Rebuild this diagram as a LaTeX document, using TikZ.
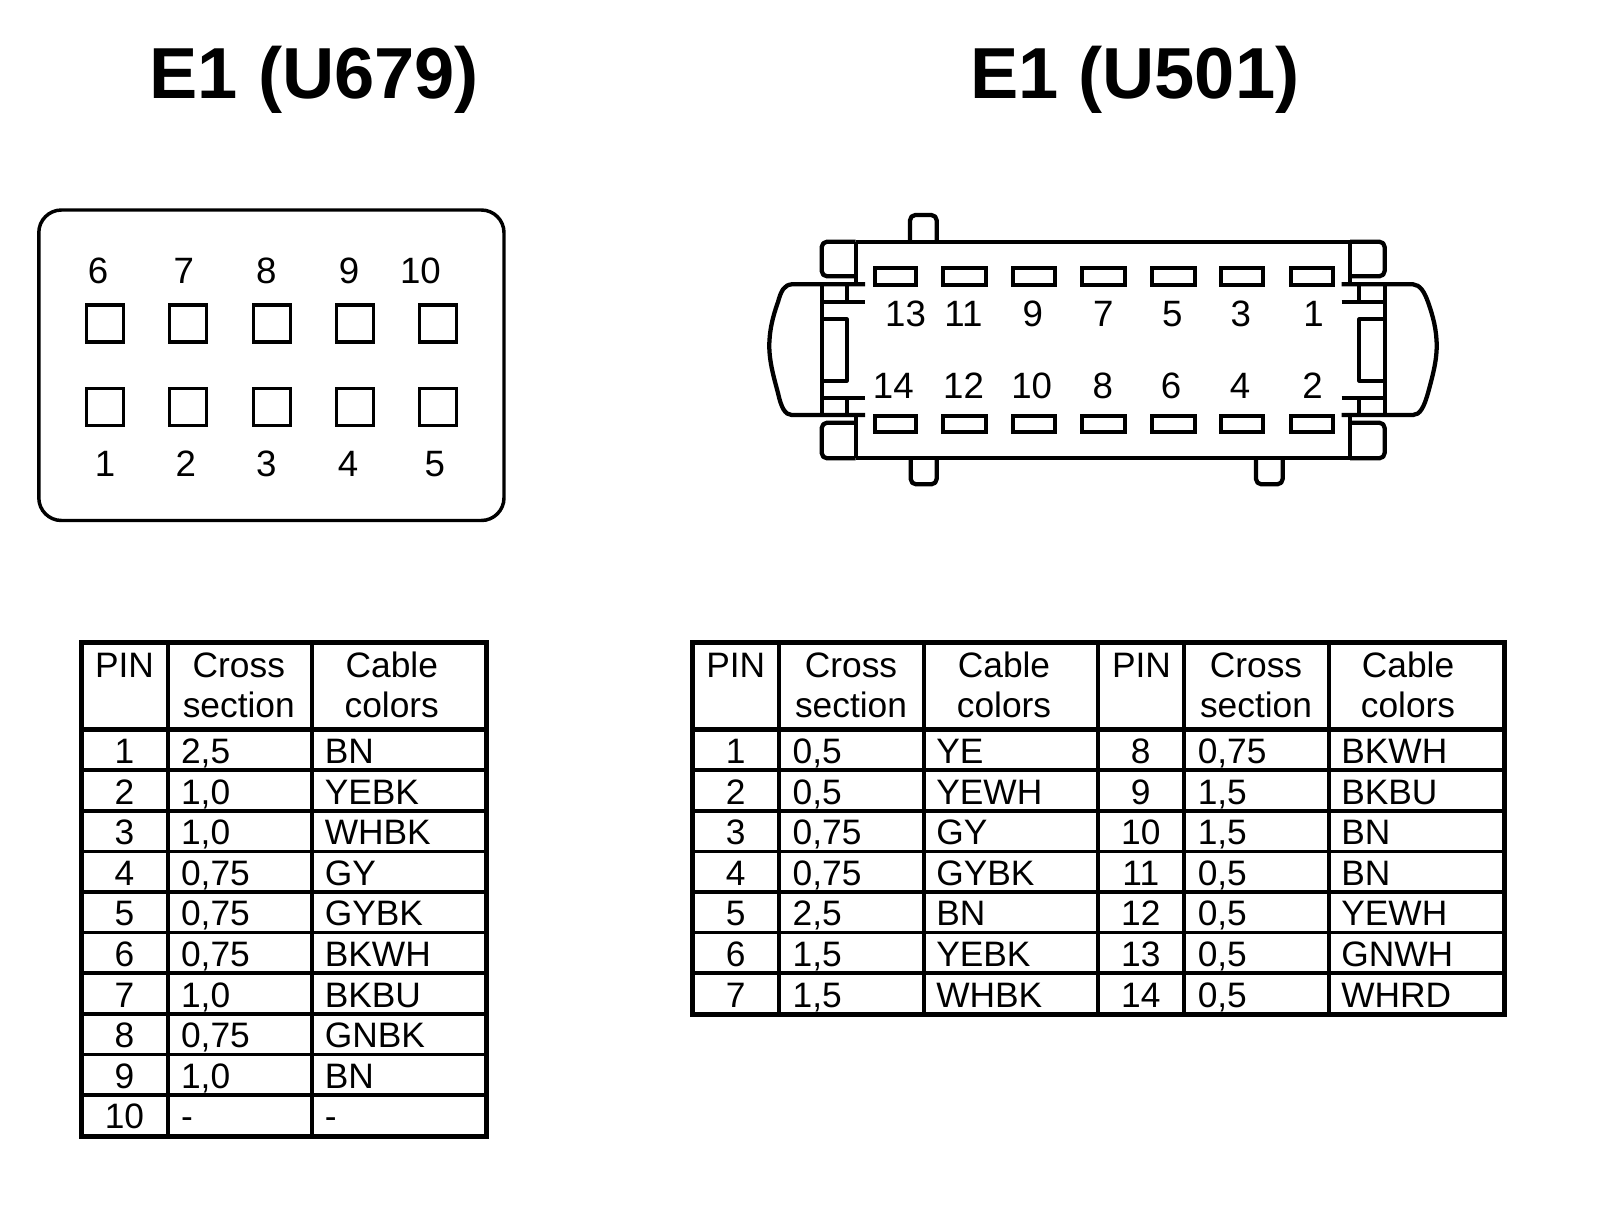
\documentclass[tikz,border=0pt]{standalone}
\usepackage{fontspec}
\setmainfont{Liberation Sans}
\begin{document}
\begin{tikzpicture}[x=0.75pt,y=-0.75pt,
  title/.style={font=\fontsize{54.2}{54.2}\selectfont\bfseries,inner sep=0pt,anchor=base},
  num/.style={font=\fontsize{27.5}{27.5}\selectfont,inner sep=0pt,anchor=base},
  cell/.style={font=\fontsize{26.5}{26.5}\selectfont,inner sep=0pt,anchor=base},
  lcell/.style={cell,anchor=base west},
  outer/.style={line width=3.75pt,line join=miter},
  vline/.style={line width=3pt},
  hline/.style={line width=2.6pt},
  hhead/.style={line width=3.2pt},
  shell/.style={line width=2.6pt,rounded corners=17pt},
  socket/.style={line width=2.6pt},
  hull/.style={line width=3.2pt,line join=round,line cap=butt},
  pin/.style={line width=3pt,line join=miter}]
\useasboundingbox (0,0) rectangle (1600,1214);
% titles
\node[title] (t1) at (314.3,98.5) {E1 (U679)};
\node[title] (t2) at (1134.7,98.5) {E1 (U501)};
% left connector
\draw[shell] (38.8,210) rectangle (504,520.5);
\foreach \x [count=\i] in {105,188,271.9,355,437.8}{
  \draw[socket] (\x-18.5,305) rectangle (\x+18.5,342);
  \draw[socket] (\x-18.5,388.5) rectangle (\x+18.5,425.5);
}
\foreach \n/\x in {6/98,7/183.7,8/266.3,9/349,10/420.4}
  \node[num] (lt\n) at (\x,283) {\n};
\foreach \n/\x in {1/105,2/185.7,3/266.3,4/348,5/434.7}
  \node[num] (lb\n) at (\x,476) {\n};
% right connector: body
\draw[hull] (855.7,241.7) -- (1350,241.7);
\draw[hull] (855.7,458.3) -- (1350,458.3);
\draw[hull] (855.7,241.7) -- (855.7,284.3);
\draw[hull] (855.7,415) -- (855.7,458.3);
\draw[hull] (1350,241.7) -- (1350,284.3);
\draw[hull] (1350,415) -- (1350,458.3);
% corner boxes
\draw[hull,rounded corners=4pt] (855.7,241.7) -- (821.7,241.7) -- (821.7,276.3) -- (855.7,276.3);
\draw[hull,rounded corners=4pt] (855.7,422.7) -- (821.7,422.7) -- (821.7,458.3) -- (855.7,458.3);
\draw[hull,rounded corners=4pt] (1350,241.7) -- (1384.7,241.7) -- (1384.7,276.3) -- (1350,276.3);
\draw[hull,rounded corners=4pt] (1350,422.7) -- (1384.7,422.7) -- (1384.7,458.3) -- (1350,458.3);
% tabs
\draw[hull,rounded corners=4pt] (910,241.7) -- (910,215) -- (936.7,215) -- (936.7,241.7);
\draw[hull,rounded corners=4pt] (910.7,458.3) -- (910.7,484.3) -- (936.7,484.3) -- (936.7,458.3);
\draw[hull,rounded corners=4pt] (1256,458.3) -- (1256,484.3) -- (1282.7,484.3) -- (1282.7,458.3);
% left latch
\draw[hull] (821.7,284.3) -- (821.7,415);
\draw[hull] (865,284.3) -- (791.7,284.3) .. controls (784,285) and (781,291) .. (778,302)
  .. controls (773,316) and (769.3,330) .. (769.3,346) .. controls (769.3,362) and (774,378) .. (778,393)
  .. controls (781,407) and (785,415) .. (791.7,415) -- (865,415);
\draw[hull] (821.7,301.7) -- (865,301.7);
\draw[hull] (821.7,397.7) -- (865,397.7);
\draw[hull] (846.7,284.3) -- (846.7,301.7);
\draw[hull] (846.7,397.7) -- (846.7,415);
\draw[hull] (821.7,319.3) -- (846.7,319.3) -- (846.7,380.7) -- (821.7,380.7);
% right latch
\draw[hull] (1384.7,284.3) -- (1384.7,415);
\draw[hull] (1341.7,284.3) -- (1413,284.3) .. controls (1420,285) and (1424,291) .. (1428,302)
  .. controls (1433,316) and (1436.7,330) .. (1436.7,346) .. controls (1436.7,362) and (1432,378) .. (1428,393)
  .. controls (1424,407) and (1420,415) .. (1413,415) -- (1341.7,415);
\draw[hull] (1341.7,301.7) -- (1384.7,301.7);
\draw[hull] (1341.7,397.7) -- (1384.7,397.7);
\draw[hull] (1359.3,284.3) -- (1359.3,301.7);
\draw[hull] (1359.3,397.7) -- (1359.3,415);
\draw[hull] (1384.7,319.3) -- (1359.3,319.3) -- (1359.3,380.7) -- (1384.7,380.7);
% pins
\foreach \a/\b in {874/916.7,942.3/986,1012.3/1055,1081.6/1125,1151/1195,1220/1263.3,1290/1333.3}{
  \draw[pin] (\a+0.5,268.2) rectangle (\b-0.5,284.5);
  \draw[pin] (\a+0.5,415.5) rectangle (\b-0.5,432.3);
}
\foreach \n/\x in {13/905.5,11/963.5,9/1032.7,7/1103.3,5/1172.3,3/1240.7,1/1313.5}
  \node[num] (ru\n) at (\x,326.7) {\n};
\foreach \n/\x in {14/893.3,12/963.5,10/1031.7,8/1102.7,6/1171,4/1240,2/1312.5}
  \node[num] (rl\n) at (\x,398.3) {\n};
% left table
\draw[outer] (81.6,642) rectangle (486.7,1136);
\foreach \x in {167.9,312.2} \draw[vline] (\x,642) -- (\x,1136);
\draw[hhead] (81.6,729.6) -- (486.7,729.6);
\foreach \k in {1,...,9} \draw[hline] (81.6,729.6+40.6*\k) -- (486.7,729.6+40.6*\k);
\node[cell] (lh1) at (124.5,677) {PIN};
\node[cell] (lh2) at (238.8,677) {Cross};
\node[cell] (lh3) at (238.8,717.5) {section};
\node[cell] (lh4) at (391.8,677) {Cable};
\node[cell] (lh5) at (391.8,717.5) {colors};
\foreach \p/\s/\c [count=\k from 0] in {1/{2,5}/BN,2/{1,0}/YEBK,3/{1,0}/WHBK,4/{0,75}/GY,5/{0,75}/GYBK,6/{0,75}/BKWH,7/{1,0}/BKBU,8/{0,75}/GNBK,9/{1,0}/BN,10/-/-}{
  \node[cell] (lp\p) at (124.5,763.5+40.6*\k) {\p};
  \node[lcell] (ls\p) at (180.8,763.5+40.6*\k) {\s};
  \node[lcell] (lc\p) at (324.5,763.5+40.6*\k) {\c};
}
% right table
\draw[outer] (692,642) rectangle (1504,1014);
\foreach \x in {779,923.5,1098,1184,1329} \draw[vline] (\x,642) -- (\x,1014);
\draw[hhead] (692,729.6) -- (1504,729.6);
\foreach \k in {1,...,6} \draw[hline] (692,729.6+40.6*\k) -- (1504,729.6+40.6*\k);
\node[cell] (rh1) at (735.7,677) {PIN};
\node[cell] (rh2) at (851,677) {Cross};
\node[cell] (rh3) at (851,717.5) {section};
\node[cell] (rh4) at (1004,677) {Cable};
\node[cell] (rh5) at (1004,717.5) {colors};
\node[cell] (rh6) at (1141.5,677) {PIN};
\node[cell] (rh7) at (1256,677) {Cross};
\node[cell] (rh8) at (1256,717.5) {section};
\node[cell] (rh9) at (1408,677) {Cable};
\node[cell] (rh10) at (1408,717.5) {colors};
\foreach \p/\s/\c [count=\k from 0] in {1/{0,5}/YE,2/{0,5}/YEWH,3/{0,75}/GY,4/{0,75}/GYBK,5/{2,5}/BN,6/{1,5}/YEBK,7/{1,5}/WHBK}{
  \node[cell] (rp\p) at (735.7,763.5+40.6*\k) {\p};
  \node[lcell] (rs\p) at (792.4,763.5+40.6*\k) {\s};
  \node[lcell] (rc\p) at (936,763.5+40.6*\k) {\c};
}
\foreach \p/\s/\c [count=\k from 0] in {8/{0,75}/BKWH,9/{1,5}/BKBU,10/{1,5}/BN,11/{0,5}/BN,12/{0,5}/YEWH,13/{0,5}/GNWH,14/{0,5}/WHRD}{
  \node[cell] (rp\p) at (1140.8,763.5+40.6*\k) {\p};
  \node[lcell] (rs\p) at (1197.5,763.5+40.6*\k) {\s};
  \node[lcell] (rc\p) at (1341,763.5+40.6*\k) {\c};
}
\end{tikzpicture}
\end{document}
